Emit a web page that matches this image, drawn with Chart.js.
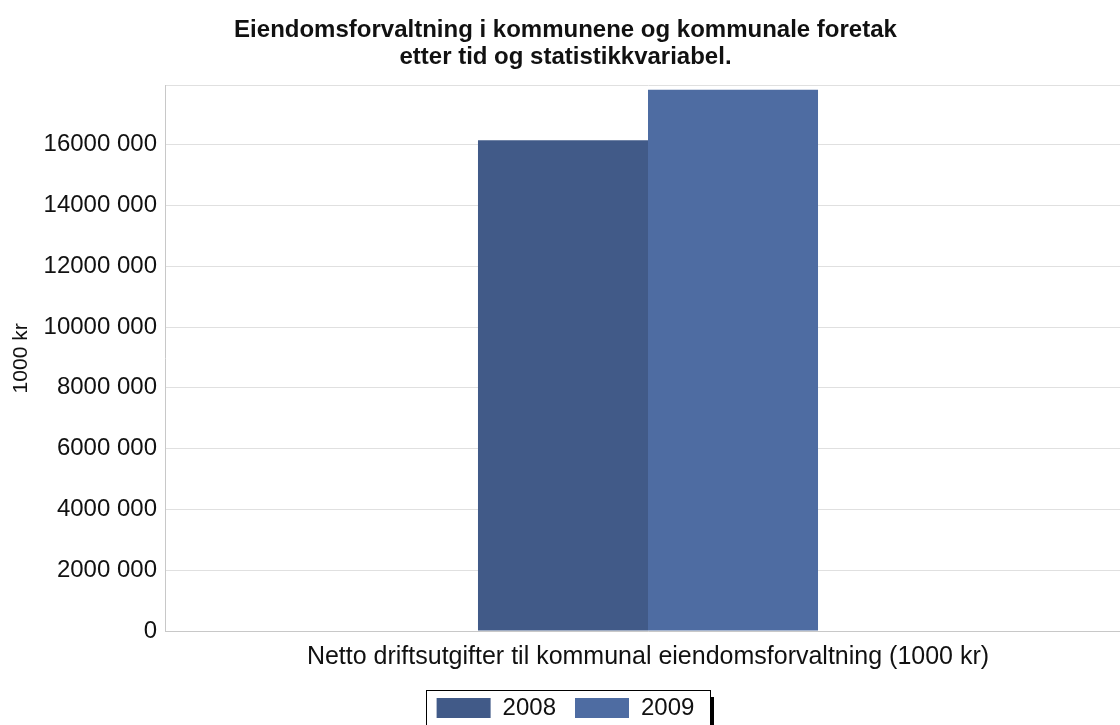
<!DOCTYPE html>
<html lang="no">
<head>
<meta charset="UTF-8">
<title>Eiendomsforvaltning i kommunene og kommunale foretak</title>
<script src="https://cdn.jsdelivr.net/npm/chart.js"></script>
<style>
  html, body { margin: 0; padding: 0; background: #fff; overflow: hidden; }
  #wrap { width: 1136px; height: 725px; }
</style>
</head>
<body>
<div id="wrap"><canvas id="chart"></canvas></div>
<script>
const categories = ['Netto driftsutgifter til kommunal eiendomsforvaltning (1000 kr)'];
const years = ['2008', '2009'];
const values2008 = [16150000];
const values2009 = [17810000];
const yTicks = [0, 2000000, 4000000, 6000000, 8000000, 10000000, 12000000, 14000000, 16000000];
const yMax = 17940000;
const barColors = ['#415a88', '#4e6ca2'];

// "16000 000" style: only the last thousands group is split off
function fmt(v) {
  v = Math.round(v);
  if (v < 1000) return String(v);
  return Math.floor(v / 1000) + ' ' + String(v % 1000).padStart(3, '0');
}

// framed legend with a black drop shadow on the right
const legendFrame = {
  id: 'legendFrame',
  afterDraw(chart) {
    const boxes = chart.legend.legendHitBoxes;
    if (!boxes || !boxes.length) return;
    const ctx = chart.ctx;
    const left = Math.min(...boxes.map(b => b.left)) - 11;
    const right = Math.max(...boxes.map(b => b.left + b.width)) + 15;
    const top = boxes[0].top - 6;
    ctx.save();
    ctx.strokeStyle = '#000';
    ctx.lineWidth = 1;
    ctx.strokeRect(Math.round(left) + 0.5, Math.round(top) + 0.5, Math.round(right - left), 60);
    ctx.fillStyle = '#000';
    ctx.fillRect(Math.round(right) + 1, Math.round(top) + 7, 4, 60);
    ctx.restore();
  }
};

new Chart(document.getElementById('chart'), {
  type: 'bar',
  data: {
    labels: categories,
    datasets: [
      { label: years[0], data: values2008, backgroundColor: barColors[0] },
      { label: years[1], data: values2009, backgroundColor: barColors[1] }
    ]
  },
  options: {
    responsive: true,
    maintainAspectRatio: false,
    animation: false,
    layout: { padding: { left: 0, right: 5, top: 0, bottom: -5 } },
    datasets: { bar: { categoryPercentage: 0.352, barPercentage: 1.0, borderWidth: 0 } },
    plugins: {
      title: {
        display: true,
        text: ['Eiendomsforvaltning i kommunene og kommunale foretak', 'etter tid og statistikkvariabel.'],
        color: '#111',
        font: { family: 'Liberation Sans', size: 24, weight: 'bold', lineHeight: 1.12 },
        padding: { top: 17, bottom: 15 }
      },
      legend: {
        position: 'bottom',
        labels: {
          color: '#111',
          font: { family: 'Liberation Sans', size: 24 },
          boxWidth: 54,
          boxHeight: 20,
          padding: 19
        }
      },
      tooltip: { enabled: false }
    },
    scales: {
      x: {
        grid: { display: false },
        border: { color: '#c8c8c8' },
        ticks: { color: '#111', font: { family: 'Liberation Sans', size: 25 }, padding: 3 },
        afterFit(scale) { scale.height = 46; }
      },
      y: {
        min: 0,
        max: yMax,
        afterBuildTicks(scale) {
          scale.ticks = yTicks.map(v => ({ value: v })).concat([{ value: yMax }]);
        },
        ticks: {
          color: '#111',
          font: { family: 'Liberation Sans', size: 24 },
          padding: 8,
          callback: v => (yTicks.includes(v) ? fmt(v) : '')
        },
        grid: { color: '#e0e0e0', drawTicks: false },
        border: { color: '#c8c8c8' },
        title: {
          display: true,
          text: '1000 kr',
          color: '#111',
          font: { family: 'Liberation Sans', size: 21 },
          padding: { top: 9, bottom: 0 }
        },
        afterFit(scale) { scale.width = 165; }
      }
    }
  },
  plugins: [legendFrame]
});
</script>
</body>
</html>
